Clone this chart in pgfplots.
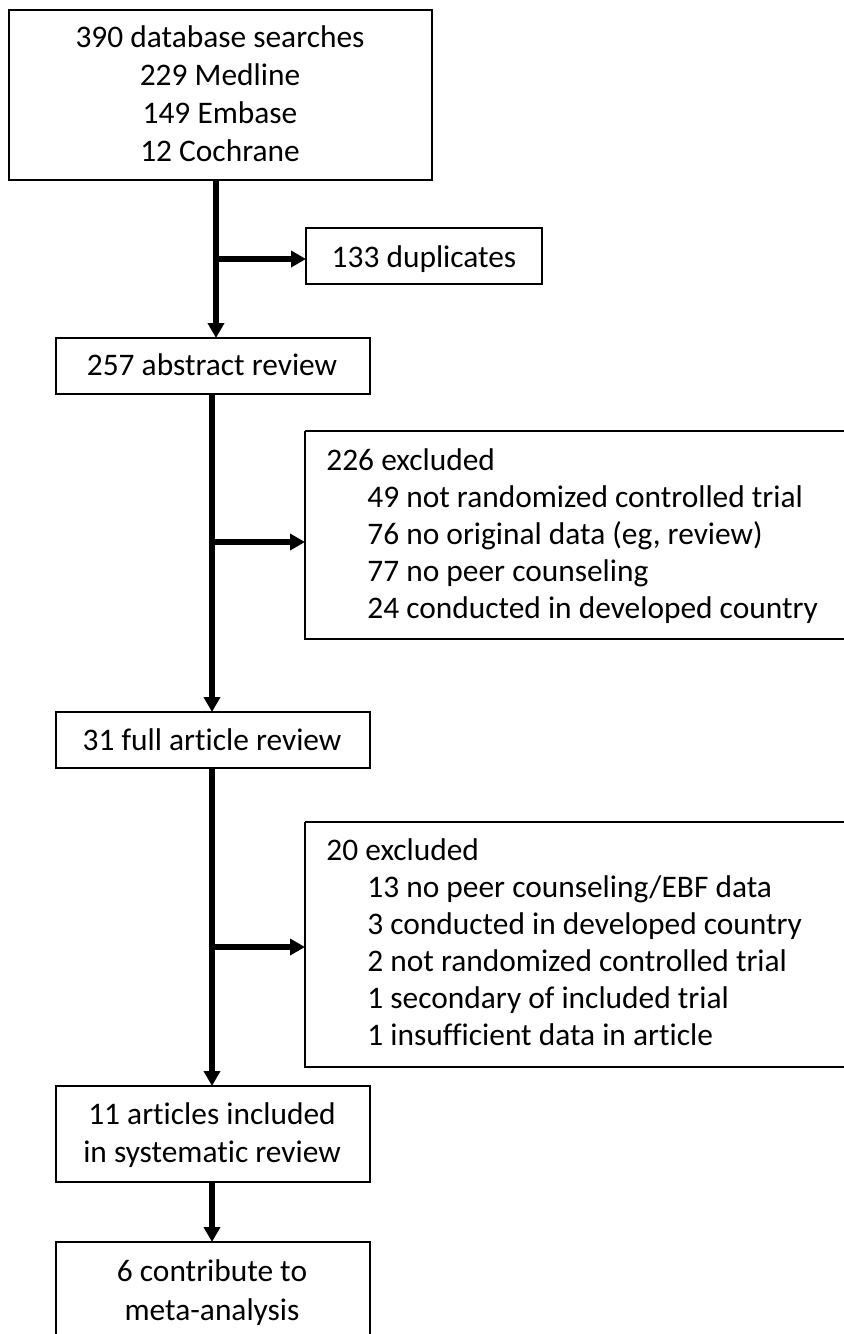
\documentclass[border=0pt]{standalone}
\usepackage{fontspec}
\setmainfont{Carlito}[Ligatures={NoCommon}]
\usepackage{pgfplots}
\pgfplotsset{compat=1.18}
\usetikzlibrary{arrows.meta}
\begin{document}
\begin{tikzpicture}
\fill[white] (0,0) rectangle (422pt,667pt);
\useasboundingbox (0,0) rectangle (422pt,667pt);
\begin{axis}[at={(0,0)}, anchor=south west, width=422pt, height=667pt, scale only axis,
  xmin=0, xmax=844, ymin=0, ymax=1334, y dir=reverse, hide axis, clip=false]
% boxes
\addplot[black, line width=1pt, line join=miter] coordinates {(9,10) (432,10) (432,180) (9,180) (9,10) (432,10)};
\addplot[black, line width=1pt, line join=miter] coordinates {(306,228) (542,228) (542,284) (306,284) (306,228) (542,228)};
\addplot[black, line width=1pt, line join=miter] coordinates {(56,338) (370,338) (370,394) (56,394) (56,338) (370,338)};
\addplot[black, line width=1pt, line join=miter] coordinates {(305,431) (846,431) (846,639) (305,639) (305,431)};
\addplot[black, line width=1pt, line join=miter] coordinates {(56,712) (370,712) (370,768) (56,768) (56,712) (370,712)};
\addplot[black, line width=1pt, line join=miter] coordinates {(305,822) (846,822) (846,1067) (305,1067) (305,822)};
\addplot[black, line width=1pt, line join=miter] coordinates {(56,1086) (370,1086) (370,1182) (56,1182) (56,1086) (370,1086)};
\addplot[black, line width=1pt, line join=miter] coordinates {(56,1340) (56,1242) (370,1242) (370,1340)};
% arrows
\addplot[black, line width=2.7pt, -{Triangle[length=7.5pt,width=8pt]}] coordinates {(216,180) (216,338)};
\addplot[black, line width=2.7pt, -{Triangle[length=7.5pt,width=8pt]}] coordinates {(215,259) (306,259)};
\addplot[black, line width=2.7pt, -{Triangle[length=7.5pt,width=8pt]}] coordinates {(212,394) (212,712)};
\addplot[black, line width=2.7pt, -{Triangle[length=7.5pt,width=8pt]}] coordinates {(211,542) (305,542)};
\addplot[black, line width=2.7pt, -{Triangle[length=7.5pt,width=8pt]}] coordinates {(212,768) (212,1086)};
\addplot[black, line width=2.7pt, -{Triangle[length=7.5pt,width=8pt]}] coordinates {(211,947) (305,947)};
\addplot[black, line width=2.7pt, -{Triangle[length=7.5pt,width=8pt]}] coordinates {(212,1182) (212,1242)};
% texts
\tikzset{every node/.style={font=\fontsize{15.7}{19}\selectfont, inner sep=0pt}}
\node[anchor=base] at (axis cs:220,47) {390 database searches};
\node[anchor=base] at (axis cs:220,85) {229 Medline};
\node[anchor=base] at (axis cs:220,123) {149 Embase};
\node[anchor=base] at (axis cs:220,161) {12 Cochrane};
\node[anchor=base] at (axis cs:424,267) {133 duplicates};
\node[anchor=base] at (axis cs:212,375) {257 abstract review};
\node[anchor=base west] at (axis cs:326,470) {226 excluded};
\node[anchor=base west] at (axis cs:367,507) {49 not randomized controlled trial};
\node[anchor=base west] at (axis cs:367,544) {76 no original data (eg, review)};
\node[anchor=base west] at (axis cs:367,581) {77 no peer counseling};
\node[anchor=base west] at (axis cs:367,618) {24 conducted in developed country};
\node[anchor=base] at (axis cs:212,750) {31 full article review};
\node[anchor=base west] at (axis cs:326,860) {20 excluded};
\node[anchor=base west] at (axis cs:367,897) {13 no peer counseling/EBF data};
\node[anchor=base west] at (axis cs:367,934) {3 conducted in developed country};
\node[anchor=base west] at (axis cs:367,971) {2 not randomized controlled trial};
\node[anchor=base west] at (axis cs:367,1008) {1 secondary of included trial};
\node[anchor=base west] at (axis cs:367,1045) {1 insufficient data in article};
\node[anchor=base] at (axis cs:212,1124) {11 articles included};
\node[anchor=base] at (axis cs:212,1162) {in systematic review};
\node[anchor=base] at (axis cs:212,1281) {6 contribute to};
\node[anchor=base] at (axis cs:212,1320) {meta-analysis};
\end{axis}
\end{tikzpicture}
\end{document}
